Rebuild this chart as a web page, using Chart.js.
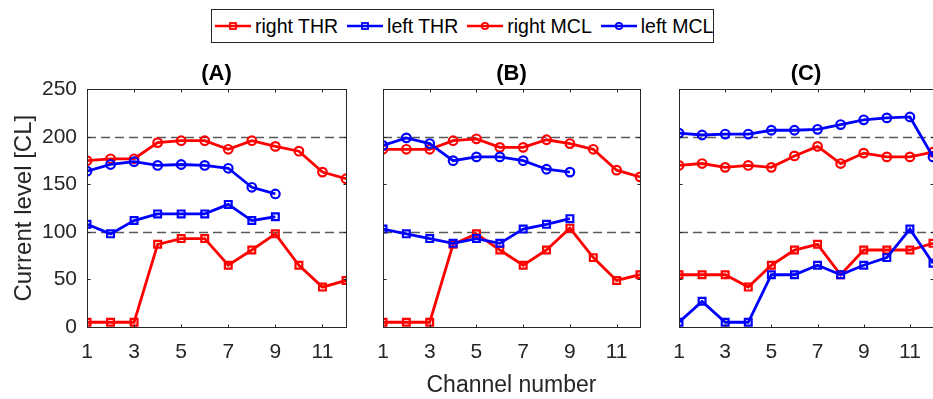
<!DOCTYPE html>
<html>
<head>
<meta charset="utf-8">
<script src="https://cdn.jsdelivr.net/npm/chart.js@4"></script>
<style>
  html, body { margin: 0; padding: 0; background: #fff; }
  #wrap { position: relative; width: 933px; height: 399px; overflow: hidden; }
  #wrap canvas { position: absolute; left: 0; top: 0; }
  #legend {
    position: absolute; left: 211px; top: 9px; width: 498px; height: 32px;
    border: 1px solid #262626; background: #fff;
    font-family: "Liberation Sans", Arial, sans-serif; font-size: 19.5px; color: #000;
    display: flex; align-items: center; padding-left: 3px; box-sizing: content-box;
    white-space: nowrap;
  }
  #legend .item { display: flex; align-items: center; margin-right: 9px; flex: none; }
  #legend svg { margin-right: 4px; flex: none; }
</style>
</head>
<body>
<div id="wrap">
  <canvas id="panelA" width="940" height="399"></canvas>
  <canvas id="panelB" width="940" height="399"></canvas>
  <canvas id="panelC" width="940" height="399"></canvas>
  <div id="legend"></div>
</div>
<script>
const channels = [1, 2, 3, 4, 5, 6, 7, 8, 9, 10, 11, 12];
const xTicks = [1, 3, 5, 7, 9, 11];
const yTicks = [0, 50, 100, 150, 200, 250];
const refLines = [100, 200];
const seriesNames = ['right THR', 'left THR', 'right MCL', 'left MCL'];
const panelTitles = ['(A)', '(B)', '(C)'];

// panel A
const rightThrA = [5, 5, 5, 87, 93, 93, 65, 81, 98, 65, 42, 49];
const leftThrA = [108, 98, 112, 119, 119, 119, 129, 112, 116];
const rightMclA = [175, 177, 177, 194, 196, 196, 187, 196, 190, 185, 163, 156];
const leftMclA = [164, 171, 174, 170, 171, 170, 167, 147, 140];

// panel B
const rightThrB = [5, 5, 5, 87, 98, 81, 65, 81, 104, 73, 49, 55];
const leftThrB = [103, 98, 93, 88, 93, 88, 103, 108, 114];
const rightMclB = [187, 187, 187, 196, 198, 189, 189, 197, 193, 187, 165, 158];
const leftMclB = [191, 199, 193, 175, 179, 179, 175, 166, 163];

// panel C
const rightThrC = [55, 55, 55, 42, 65, 81, 87, 55, 81, 81, 81, 88];
const leftThrC = [5, 27, 5, 5, 55, 55, 65, 55, 65, 73, 103, 67];
const rightMclC = [170, 172, 168, 170, 168, 180, 190, 172, 183, 179, 179, 184];
const leftMclC = [204, 202, 203, 203, 207, 207, 208, 213, 218, 220, 221, 179];

const RED = '#ff0000';
const BLUE = '#0000ff';
const AXIS = '#262626';
const FONT = '"Liberation Sans", Arial, sans-serif';

function series(label, values, color, marker, order) {
  return {
    label,
    data: values.map((v, i) => ({ x: channels[i], y: v })),
    borderColor: color,
    backgroundColor: 'transparent',
    borderWidth: 2.8,
    pointStyle: marker,
    pointRadius: marker === 'rect' ? 4.8 : 4.3,
    pointBorderWidth: 2.2,
    pointBorderColor: color,
    pointBackgroundColor: 'transparent',
    tension: 0,
    order
  };
}

const axesFrame = {
  id: 'axesFrame',
  beforeDatasetsDraw(chart) {
    const { ctx, chartArea: a, scales: { y } } = chart;
    ctx.save();
    ctx.strokeStyle = '#5a5a5a';
    ctx.lineWidth = 1.7;
    ctx.setLineDash([9, 5]);
    refLines.forEach(v => {
      const py = Math.round(y.getPixelForValue(v)) + 0.5;
      ctx.beginPath();
      ctx.moveTo(a.left, py);
      ctx.lineTo(a.right, py);
      ctx.stroke();
    });
    ctx.restore();
  },
  afterDraw(chart) {
    const { ctx, chartArea: a, scales: { x, y } } = chart;
    ctx.save();
    ctx.strokeStyle = AXIS;
    ctx.lineWidth = 1;
    const L = Math.round(a.left) + 0.5, R = Math.round(a.right) + 0.5;
    const T = Math.round(a.top) + 0.5, B = Math.round(a.bottom) + 0.5;
    ctx.strokeRect(L, T, R - L, B - T);
    ctx.beginPath();
    xTicks.forEach(v => {
      const px = Math.round(x.getPixelForValue(v)) + 0.5;
      ctx.moveTo(px, B); ctx.lineTo(px, B - 3);
      ctx.moveTo(px, T); ctx.lineTo(px, T + 3);
    });
    yTicks.forEach(v => {
      const py = Math.round(y.getPixelForValue(v)) + 0.5;
      ctx.moveTo(L, py); ctx.lineTo(L + 3, py);
      ctx.moveTo(R, py); ctx.lineTo(R - 3, py);
    });
    ctx.stroke();
    ctx.restore();
  }
};

function makePanel(id, title, data, pad, showY, showXTitle) {
  return new Chart(document.getElementById(id), {
    type: 'line',
    data: {
      datasets: [
        series(seriesNames[0], data[0], RED, 'rect', 4),
        series(seriesNames[1], data[1], BLUE, 'rect', 3),
        series(seriesNames[2], data[2], RED, 'circle', 2),
        series(seriesNames[3], data[3], BLUE, 'circle', 1)
      ]
    },
    options: {
      responsive: false,
      animation: false,
      devicePixelRatio: 1,
      layout: { padding: { left: pad.left, right: pad.right, top: 50, bottom: 0 } },
      plugins: {
        legend: { display: false },
        tooltip: { enabled: false },
        title: {
          display: true,
          text: title,
          fullSize: false,
          color: '#000',
          font: { family: FONT, size: 22, weight: 'bold', lineHeight: 1.2 },
          padding: { top: 11, bottom: 2 }
        }
      },
      scales: {
        x: {
          type: 'linear',
          min: 1,
          max: 12,
          grid: { display: false, drawTicks: false },
          border: { display: false },
          afterBuildTicks: s => { s.ticks = xTicks.map(v => ({ value: v })); },
          afterFit: s => { s.height = 72; },
          ticks: {
            color: AXIS,
            font: { family: FONT, size: 21 },
            padding: 13,
            maxRotation: 0,
            autoSkip: false
          },
          title: {
            display: showXTitle,
            text: 'Channel number',
            color: AXIS,
            font: { family: FONT, size: 23, lineHeight: 1.2 },
            padding: 0
          }
        },
        y: {
          display: showY,
          min: 0,
          max: 250,
          grid: { display: false, drawTicks: false },
          border: { display: false },
          afterBuildTicks: s => { s.ticks = yTicks.map(v => ({ value: v })); },
          afterFit: s => { s.width = showY ? 77 : 0; },
          ticks: {
            color: AXIS,
            font: { family: FONT, size: 21 },
            padding: 10
          },
          title: {
            display: true,
            text: 'Current level [CL]',
            color: AXIS,
            font: { family: FONT, size: 24, lineHeight: 1.2 },
            padding: 0
          }
        }
      }
    },
    plugins: [axesFrame]
  });
}

makePanel('panelA', panelTitles[0], [rightThrA, leftThrA, rightMclA, leftMclA], { left: 10, right: 594 }, true, false);
makePanel('panelB', panelTitles[1], [rightThrB, leftThrB, rightMclB, leftMclB], { left: 383, right: 300 }, false, true);
makePanel('panelC', panelTitles[2], [rightThrC, leftThrC, rightMclC, leftMclC], { left: 679, right: 5 }, false, false);

// legend
const legendColors = [RED, BLUE, RED, BLUE];
const legendMarkers = ['rect', 'rect', 'circle', 'circle'];
const legend = document.getElementById('legend');
seriesNames.forEach((name, i) => {
  const c = legendColors[i];
  const mark = legendMarkers[i] === 'rect'
    ? `<rect x="15" y="4" width="6" height="6" fill="none" stroke="${c}" stroke-width="1.8"/>`
    : `<circle cx="18" cy="7" r="3.2" fill="none" stroke="${c}" stroke-width="1.8"/>`;
  const item = document.createElement('div');
  item.className = 'item';
  item.innerHTML = `<svg width="36" height="14"><line x1="0" y1="7" x2="36" y2="7" stroke="${c}" stroke-width="2.5"/>${mark}</svg><span>${name}</span>`;
  legend.appendChild(item);
});
</script>
</body>
</html>
